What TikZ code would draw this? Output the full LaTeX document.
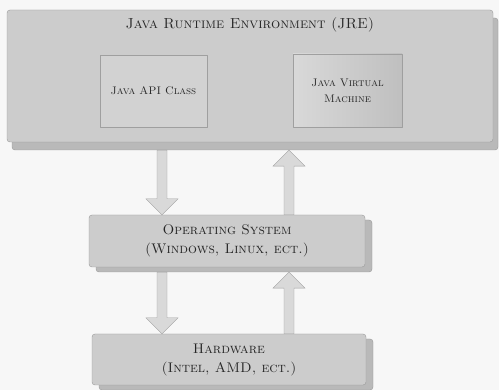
\documentclass[tikz,border=0pt]{standalone}
\usepackage{fontspec}
\usetikzlibrary{calc,shadows}
\tikzset{
  layer/.style 2 args={draw=gray!80, fill=gray!40, rounded corners=3pt, align=center,
    text=black!85, font=\scshape,
    drop shadow={shadow xshift=#1, shadow yshift=#2, fill=gray!55, draw=gray!80, opacity=1}},
  inbox/.style={draw=gray!75, fill=gray!35, align=center, text=black!85,
    font=\scshape\fontsize{11}{16}\selectfont},
  fatarrow/.style={draw=gray!75, fill=gray!30, line join=miter}
}
% block arrow from #1 to #2
\newcommand\fatarrow[2]{%
  \coordinate (#2hb) at ($(#2)!\headl!(#1)$);
  \draw[fatarrow] ($(#1)!\shaftw!90:(#2)$) -- ($(#2hb)!\shaftw!90:(#2)$)
    -- ($(#2hb)!\headw!90:(#2)$) -- (#2) -- ($(#2hb)!\headw!-90:(#2)$)
    -- ($(#2hb)!\shaftw!-90:(#2)$) -- ($(#1)!\shaftw!-90:(#2)$) -- cycle;}
\begin{document}
\begin{tikzpicture}[x=1pt, y=-1pt, line join=round]
  \def\shaftw{5pt} \def\headw{16pt} \def\headl{16pt}
  \useasboundingbox (0,0) rectangle (499,390);
  \fill[gray!6] (0,0) rectangle (499,390);
  % JRE with its two parts
  \node[layer={5pt}{-8pt}, minimum width=486pt, minimum height=132pt] (jre) at (250,76) {};
  \node[text=black!85, font=\scshape\fontsize{14.5}{16}\selectfont] (jretitle) at (250,25) {Java Runtime Environment (JRE)};
  \node[inbox, minimum width=107pt, minimum height=72pt] (api) at (153.5,91) {Java API Class};
  \node[inbox, left color=gray!30, right color=gray!50, minimum width=109pt, minimum height=73pt] (jvm) at (347.5,90.5) {Java Virtual\\Machine};
  % lower layers
  \node[layer={7pt}{-5pt}, minimum width=276pt, minimum height=52pt, font=\scshape\fontsize{14}{19}\selectfont] (os) at (227,241) {Operating System\\(Windows, Linux, ect.)};
  \node[layer={7pt}{-5pt}, minimum width=274pt, minimum height=51pt, font=\scshape\fontsize{14}{19}\selectfont] (hw) at (229,359.5) {Hardware\\(Intel, AMD, ect.)};
  \coordinate (jrebase) at ($(jre.south)+(0,8)$);
  \coordinate (osbase) at ($(os.south)+(0,5)$);
  \coordinate (lx) at (162,0); \coordinate (rx) at (289,0);
  \coordinate (dn1a) at (jrebase -| lx); \coordinate (dn1b) at (os.north -| lx);
  \coordinate (up1a) at (os.north -| rx); \coordinate (up1b) at (jrebase -| rx);
  \coordinate (dn2a) at (osbase -| lx); \coordinate (dn2b) at (hw.north -| lx);
  \coordinate (up2a) at (hw.north -| rx); \coordinate (up2b) at (osbase -| rx);
  \fatarrow{dn1a}{dn1b} \fatarrow{up1a}{up1b}
  \fatarrow{dn2a}{dn2b} \fatarrow{up2a}{up2b}
\end{tikzpicture}
\end{document}
